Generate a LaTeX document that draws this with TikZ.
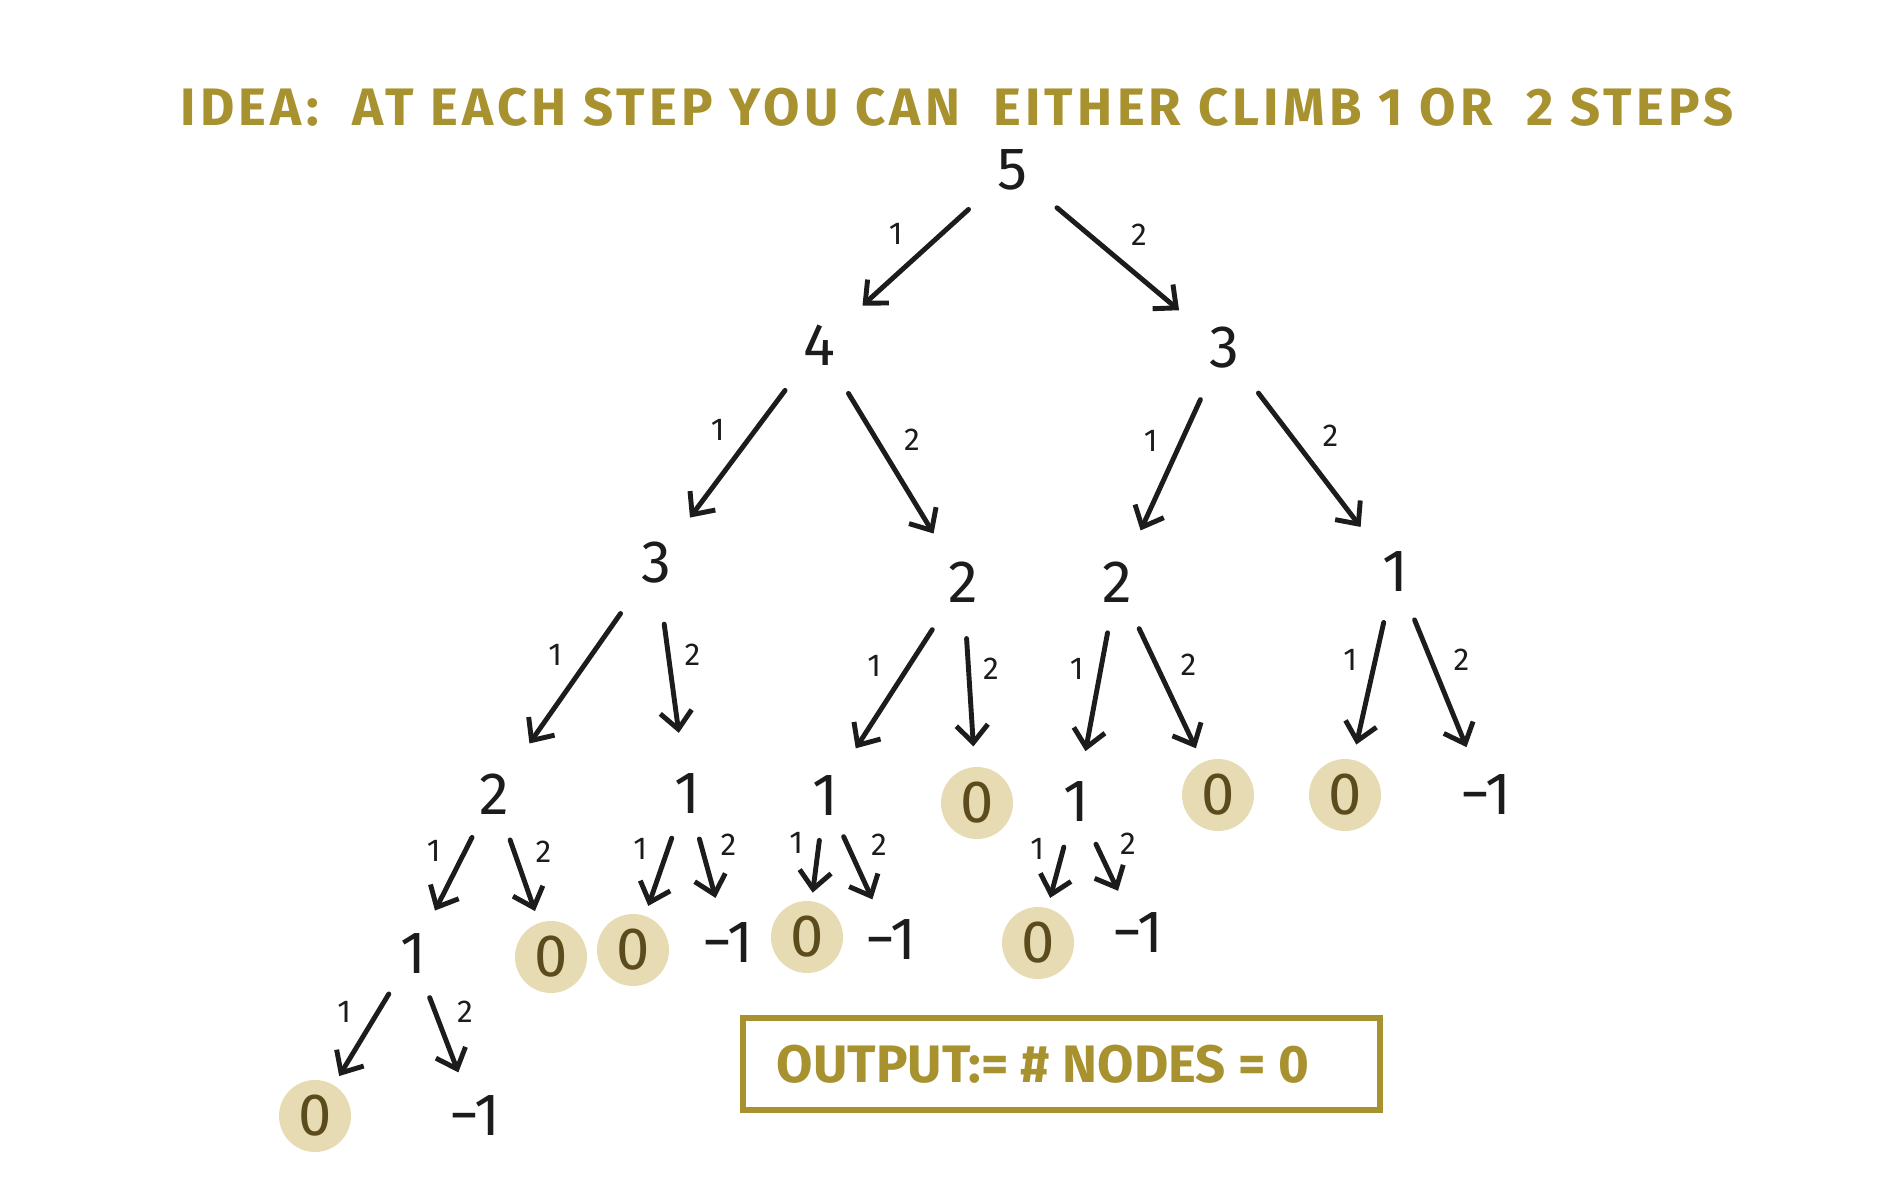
\documentclass[tikz,border=0pt]{standalone}
\usepackage{fontspec}
\setmainfont{Fira Sans}
\usetikzlibrary{arrows.meta}
\definecolor{gold}{HTML}{A8912F}
\definecolor{hlfill}{HTML}{E6DBB2}
\definecolor{hltext}{HTML}{5C4B1C}
\definecolor{ink}{HTML}{1C1C1C}

\begin{document}
\begin{tikzpicture}[
  val/.style={circle,inner sep=0pt,minimum size=0.72cm,text=ink,font=\fontsize{17}{18}\selectfont},
  hl/.style={val,fill=hlfill,text=hltext},
  edge/.style={draw=ink,line width=1.4pt,line cap=round,-{Straight Barb[length=5pt,width=9pt]}},
  one/.style={midway,above left,inner sep=3pt,text=ink,font=\fontsize{9}{10}\selectfont},
  two/.style={midway,above right,inner sep=3pt,text=ink,font=\fontsize{9}{10}\selectfont}
]
\useasboundingbox (0,0) rectangle (19,12);

% title
\node[text=gold,font=\bfseries\fontsize{15}{16}\selectfont\addfontfeature{LetterSpace=8}] (title) at (9.57,10.93)
  {IDEA:\ \ AT EACH STEP YOU CAN\ \ EITHER CLIMB 1 OR\ \ 2 STEPS};

% plain values
\foreach \n/\x/\y/\v in {n5/10.12/10.30/5, n4/8.19/8.55/4, n3/12.24/8.52/3,
    n3a/6.56/6.37/3, n2a/9.63/6.18/2, n2b/11.17/6.18/2, n1a/13.95/6.28/1,
    n2c/4.94/4.06/2, n1b/6.87/4.06/1, n1c/8.25/4.04/1, n1d/10.76/3.98/1, m1a/14.86/4.05/−1,
    n1e/4.13/2.46/1, m1b/7.28/2.57/−1, m1c/8.91/2.60/−1, m1d/11.38/2.67/−1,
    m1e/4.75/0.84/−1}
  \node[val] (\n) at (\x,\y) {\v};

% reached the top
\foreach \n/\x/\y in {n0a/9.77/3.97, n0b/12.18/4.05, n0c/13.45/4.05,
    n0d/5.51/2.43, n0e/6.33/2.50, n0f/8.07/2.63, n0g/10.38/2.57, n0h/3.15/0.84}
  \node[hl] (\n) at (\x,\y) {0};

% climb 1
\foreach \p/\c/\s in {n5/n4/0.22, n4/n3a/0.2, n3/n2b/0.2, n3a/n2c/0.25, n2a/n1c/0.2,
    n2b/n1d/0.15, n1a/n0c/0.15, n2c/n1e/0.12, n1b/n0e/0.1, n1c/n0f/0.08, n1d/n0g/0.1, n1e/n0h/0.1}
  \draw[edge,shorten <=\s cm,shorten >=\s cm] (\p) -- node[one] {1} (\c);

% climb 2
\foreach \p/\c/\s in {n5/n3/0.22, n4/n2a/0.2, n3/n1a/0.2, n3a/n1b/0.25, n2a/n0a/0.2,
    n2b/n0b/0.15, n1a/m1a/0.15, n2c/n0d/0.12, n1b/m1b/0.1, n1c/m1c/0.08, n1d/m1d/0.1, n1e/m1e/0.1}
  \draw[edge,shorten <=\s cm,shorten >=\s cm] (\p) -- node[two] {2} (\c);

% result box
\draw[gold,line width=1.5pt] (7.43,0.90) rectangle (13.80,1.82);
\node[text=gold,font=\bfseries\fontsize{15}{16}\selectfont] (out) at (10.43,1.36) {OUTPUT:= \# NODES = 0};
\end{tikzpicture}
\end{document}
